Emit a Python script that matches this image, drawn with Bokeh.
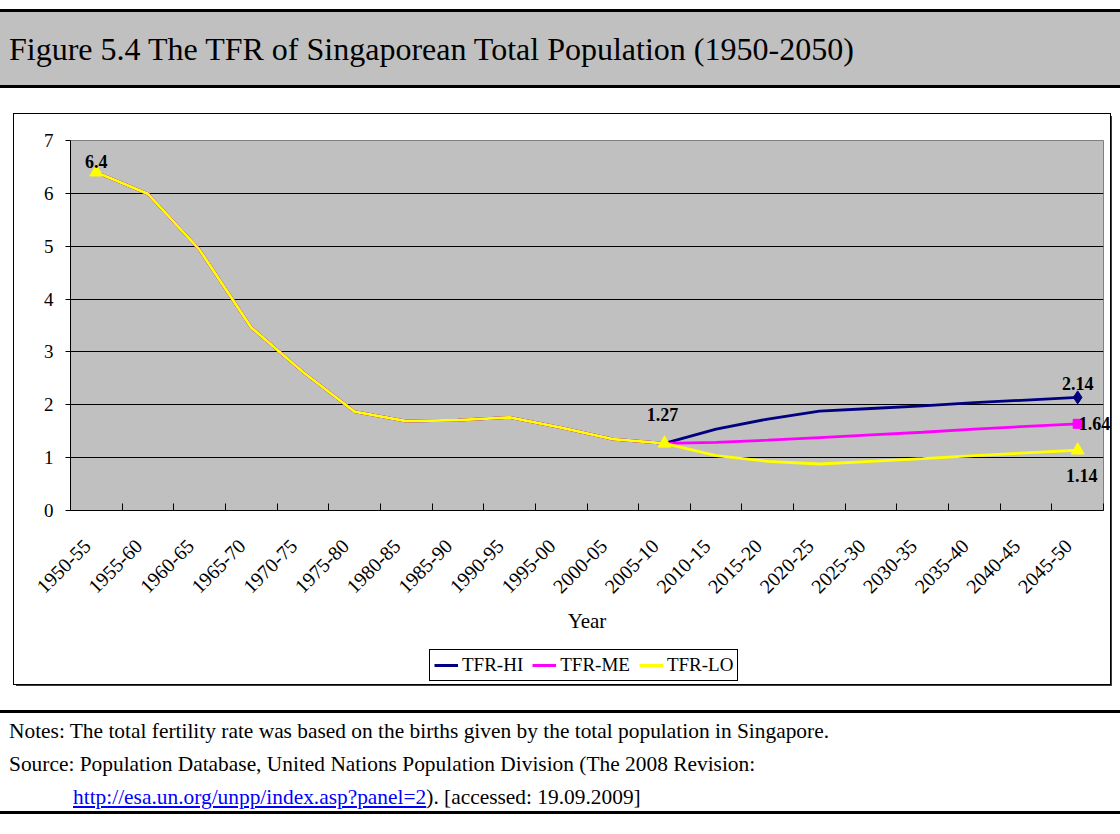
from math import pi
from bokeh.plotting import figure
from bokeh.models import Range1d, FixedTicker, Legend, LegendItem, Div
from bokeh.layouts import column
from bokeh.embed import file_html
from bokeh.resources import INLINE
from bokeh.core.properties import value

# ---------------- data ----------------
periods = ["1950-55", "1955-60", "1960-65", "1965-70", "1970-75", "1975-80",
           "1980-85", "1985-90", "1990-95", "1995-00", "2000-05", "2005-10",
           "2010-15", "2015-20", "2020-25", "2025-30", "2030-35", "2035-40",
           "2040-45", "2045-50"]
tfr_hi = [6.40, 5.99, 4.93, 3.46, 2.62, 1.87, 1.69, 1.71, 1.76, 1.57, 1.35, 1.27,
          1.54, 1.73, 1.88, 1.93, 1.98, 2.04, 2.09, 2.14]
tfr_me = [6.40, 5.99, 4.93, 3.46, 2.62, 1.87, 1.69, 1.71, 1.76, 1.57, 1.35, 1.27,
          1.29, 1.33, 1.38, 1.43, 1.48, 1.54, 1.59, 1.64]
tfr_lo = [6.40, 5.99, 4.93, 3.46, 2.62, 1.87, 1.69, 1.71, 1.76, 1.57, 1.35, 1.27,
          1.04, 0.93, 0.88, 0.93, 0.98, 1.04, 1.09, 1.14]
y_ticks = [0, 1, 2, 3, 4, 5, 6, 7]
series_names = ["TFR-HI", "TFR-ME", "TFR-LO"]

title_text = "Figure 5.4 The TFR of Singaporean Total Population (1950-2050)"
notes_text = "Notes: The total fertility rate was based on the births given by the total population in Singapore."
source_text = "Source: Population Database, United Nations Population Division (The 2008 Revision:"
source_url = "http://esa.un.org/unpp/index.asp?panel=2"
source_tail = "). [accessed: 19.09.2009]"

FONT = "Liberation Serif"
C_HI, C_ME, C_LO = "#000080", "#ff00ff", "#ffff00"
colors = [C_HI, C_ME, C_LO]
series = [tfr_hi, tfr_me, tfr_lo]

n = len(periods)
xs = [i + 0.5 for i in range(n)]          # category centres
label_pos = [x - 0.18 for x in xs]        # rotated labels end just left of centre
mid = periods.index("2005-10")
last = n - 1

def fmt(v):
    return f"{v:.2f}".rstrip("0").rstrip(".")

# ---------------- title bar ----------------
title_div = Div(
    text=title_text, width=1120, height=79, margin=(9, 0, 0, 0),
    styles={"background-color": "#c0c0c0", "border-top": "3px solid black",
            "border-bottom": "3px solid black", "box-sizing": "border-box",
            "font-family": FONT, "font-size": "32px", "color": "black",
            "padding-left": "9px", "padding-top": "19px", "line-height": "1.15"})

# ---------------- chart ----------------
p = figure(width=1096, height=531, x_range=Range1d(0, n), y_range=Range1d(0, 7),
           output_backend="svg", toolbar_location=None,
           min_border_left=56, min_border_right=7, min_border_top=26, min_border_bottom=135,
           background_fill_color="#c0c0c0", border_fill_color="white",
           outline_line_color="#808080")

p.xgrid.visible = False
p.ygrid.ticker = FixedTicker(ticks=y_ticks)
p.ygrid.grid_line_color = "black"
p.ygrid.grid_line_width = 1

yax = p.yaxis[0]
yax.ticker = FixedTicker(ticks=y_ticks)
yax.major_label_text_font = FONT
yax.major_label_text_font_size = "19px"
yax.major_label_text_color = "black"
yax.major_tick_out = 5
yax.major_tick_in = 0
yax.minor_tick_line_color = None
yax.axis_line_color = "black"
yax.major_tick_line_color = "black"
yax.major_label_standoff = 12

xax = p.xaxis[0]
xax.ticker = FixedTicker(ticks=label_pos, minor_ticks=list(range(0, n + 1)))
xax.major_label_overrides = {x: lab for x, lab in zip(label_pos, periods)}
xax.major_tick_line_color = None
xax.minor_tick_in = 7
xax.minor_tick_out = 0
xax.minor_tick_line_color = "black"
xax.axis_line_color = "black"
xax.major_label_orientation = pi / 4
xax.major_label_text_font = FONT
xax.major_label_text_font_size = "20px"
xax.major_label_text_color = "black"
xax.major_label_standoff = 26
xax.axis_label = "Year"
xax.axis_label_text_font = FONT
xax.axis_label_text_font_size = "21px"
xax.axis_label_text_font_style = "normal"
xax.axis_label_text_color = "black"
xax.axis_label_standoff = 6

r_hi = p.line(xs, tfr_hi, line_color=C_HI, line_width=2.8)
r_me = p.line(xs, tfr_me, line_color=C_ME, line_width=2.8)
r_lo = p.line(xs, tfr_lo, line_color=C_LO, line_width=2.8)

p.scatter([xs[last]], [tfr_hi[last]], marker="diamond", size=13, color=C_HI)
p.scatter([xs[last]], [tfr_me[last]], marker="square", size=9, color=C_ME)
idx_lo = [0, mid, last]
p.scatter([xs[i] for i in idx_lo], [tfr_lo[i] for i in idx_lo], marker="triangle", size=13, color=C_LO)

lab_kw = dict(text_font=value(FONT), text_font_style="bold", text_font_size="18px",
              text_color="black", level="overlay")
p.text([xs[0]], [tfr_lo[0]], text=[fmt(tfr_lo[0])], text_align="center",
       text_baseline="alphabetic", y_offset=-11, **lab_kw)
p.text([xs[mid]], [tfr_lo[mid]], text=[fmt(tfr_lo[mid])], text_align="center",
       text_baseline="alphabetic", x_offset=-2, y_offset=-29, **lab_kw)
p.text([xs[last]], [tfr_hi[last]], text=[fmt(tfr_hi[last])], text_align="center",
       text_baseline="alphabetic", y_offset=-14, **lab_kw)
p.text([xs[last]], [tfr_me[last]], text=[fmt(tfr_me[last])], text_align="left",
       text_baseline="middle", x_offset=1, **lab_kw)
p.text([xs[last]], [tfr_lo[last]], text=[fmt(tfr_lo[last])], text_align="center",
       text_baseline="alphabetic", x_offset=4, y_offset=25, **lab_kw)

# ---------------- legend strip (bottom of the chart box) ----------------
# the strip shares the series data but its view range lies outside it, so only the legend shows
pl = figure(width=1096, height=39, x_range=Range1d(0, n), y_range=Range1d(100, 101),
            output_backend="svg", toolbar_location=None, x_axis_type=None, y_axis_type=None,
            min_border=0, background_fill_color="white", border_fill_color="white",
            outline_line_color=None)
pl.xgrid.visible = False
pl.ygrid.visible = False
leg_renderers = [pl.line(xs, s, line_color=c, line_width=3) for s, c in zip(series, colors)]
legend = Legend(items=[LegendItem(label=nm, renderers=[r]) for nm, r in zip(series_names, leg_renderers)],
                orientation="horizontal", location=(359, 3),
                border_line_color="black", border_line_width=1, border_line_alpha=1,
                background_fill_color="white", background_fill_alpha=1,
                label_text_font=FONT, label_text_font_size="19px", label_text_color="black",
                glyph_width=24, glyph_height=18, label_standoff=4, spacing=9,
                padding=4, margin=0)
pl.add_layout(legend)

chart_box = column(p, pl, spacing=0, margin=(26, 0, 0, 14),
                   styles={"outline": "1px solid black", "box-shadow": "2px 2px 0 #404040",
                           "background-color": "white"})

# ---------------- notes ----------------
notes_html = (
    f'<div style="font-family:\'{FONT}\';font-size:21.4px;line-height:33px;color:black;">'
    f'{notes_text}<br>{source_text}<br>'
    f'<span style="padding-left:64px;"><a href="{source_url}" style="color:#0000ff;text-decoration:underline;">{source_url}</a>{source_tail}</span>'
    f'</div>'
)
notes_div = Div(text=notes_html, width=1120, height=104, margin=(26, 0, 0, 0),
                styles={"border-top": "3px solid black", "border-bottom": "3px solid black",
                        "box-sizing": "border-box", "padding-left": "9px", "padding-top": "2px"})

layout = column(title_div, chart_box, notes_div, spacing=0)

open("out.html", "w").write(file_html(layout, INLINE))
